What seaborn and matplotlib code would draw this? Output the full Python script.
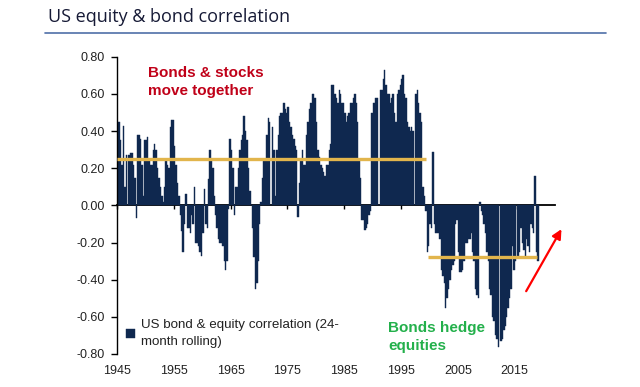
import numpy as np
import pandas as pd
import matplotlib
matplotlib.use('Agg')
import matplotlib.pyplot as plt
from matplotlib.lines import Line2D
from matplotlib.ticker import StrMethodFormatter
import seaborn as sns

# quarterly readings of the 24-month rolling correlation, one row per year (Q1..Q4)
corr_1945_1954 = [
	0.45, 0.45, 0.35, 0.22,
	0.43, 0.10, 0.27, 0.00,
	0.27, 0.28, 0.28, 0.22,
	0.15, -0.07, 0.38, 0.38,
	0.36, 0.22, 0.05, 0.35,
	0.35, 0.37, 0.25, 0.22,
	0.22, 0.30, 0.33, 0.30,
	0.20, 0.15, 0.10, 0.05,
	0.02, 0.10, 0.24, 0.22,
	0.20, 0.42, 0.46, 0.46,
]
corr_1955_1964 = [
	0.32, 0.22, 0.12, 0.05,
	-0.05, -0.14, -0.25, -0.10,
	0.06, -0.12, -0.12, -0.15,
	-0.05, -0.10, 0.10, -0.20,
	-0.20, -0.22, -0.25, -0.27,
	-0.15, 0.09, -0.10, -0.12,
	0.14, 0.30, 0.25, 0.20,
	0.05, -0.05, -0.12, -0.18,
	-0.20, -0.20, -0.22, -0.30,
	-0.35, -0.30, -0.02, 0.36,
]
corr_1965_1974 = [
	0.30, 0.20, -0.05, 0.10,
	0.10, 0.20, 0.30, 0.35,
	0.38, 0.48, 0.40, 0.35,
	0.20, 0.08, 0.00, -0.12,
	-0.28, -0.45, -0.42, -0.30,
	-0.10, 0.02, 0.15, 0.25,
	0.25, 0.38, 0.47, 0.45,
	0.00, 0.42, 0.30, 0.05,
	0.30, 0.38, 0.48, 0.50,
	0.50, 0.55, 0.52, 0.50,
]
corr_1975_1984 = [
	0.53, 0.45, 0.42, 0.38,
	0.36, 0.32, 0.30, -0.06,
	0.12, 0.24, 0.30, 0.22,
	0.22, 0.38, 0.45, 0.52,
	0.55, 0.60, 0.60, 0.58,
	0.45, 0.30, 0.26, 0.22,
	0.20, 0.18, 0.16, 0.22,
	0.22, 0.30, 0.33, 0.65,
	0.65, 0.60, 0.58, 0.55,
	0.62, 0.60, 0.55, 0.55,
]
corr_1985_1994 = [
	0.50, 0.45, 0.48, 0.50,
	0.55, 0.55, 0.58, 0.60,
	0.55, 0.45, 0.25, 0.15,
	-0.08, -0.08, -0.13, -0.12,
	-0.10, -0.05, -0.03, 0.50,
	0.55, 0.55, 0.58, 0.58,
	0.00, 0.62, 0.62, 0.68,
	0.73, 0.65, 0.60, 0.60,
	0.55, 0.58, 0.60, 0.50,
	0.45, 0.60, 0.62, 0.65,
]
corr_1995_2004 = [
	0.68, 0.70, 0.60, 0.58,
	0.45, 0.42, 0.40, 0.42,
	0.40, 0.00, 0.60, 0.62,
	0.55, 0.50, 0.45, 0.10,
	0.05, -0.03, -0.25, -0.22,
	-0.10, -0.12, 0.29, -0.10,
	-0.15, -0.15, -0.15, -0.18,
	-0.35, -0.38, -0.42, -0.55,
	-0.50, -0.45, -0.40, -0.35,
	-0.32, -0.30, -0.10, -0.08,
]
corr_2005_2019 = [
	-0.25, -0.36, -0.36, -0.35,
	-0.30, -0.20, -0.20, -0.18,
	-0.18, -0.15, -0.25, -0.30,
	-0.45, -0.48, -0.50, 0.02,
	-0.03, -0.05, -0.10, -0.15,
	-0.25, -0.30, -0.45, -0.48,
	-0.60, -0.62, -0.70, -0.72,
	-0.76, 0.00, -0.73, -0.72,
	-0.67, -0.65, -0.60, -0.55,
	-0.50, -0.45, -0.22, -0.35,
	-0.30, 0.00, -0.28, -0.25,
	-0.12, -0.20, -0.24, -0.28,
	-0.18, -0.22, -0.25, -0.10,
	-0.12, -0.15, 0.16, -0.25,
	-0.30,
]

# regime averages (gold lines)
avg_levels = [0.25, -0.28]
avg_start = [1945.0, 1999.8]
avg_end = [1999.4, 2019.0]

tick_years = [1945, 1955, 1965, 1975, 1985, 1995, 2005, 2015]
ytick_vals = [-0.8, -0.6, -0.4, -0.2, 0.0, 0.2, 0.4, 0.6, 0.8]

#------------------ build frame --------------------------------
corr = (corr_1945_1954 + corr_1955_1964 + corr_1965_1974 + corr_1975_1984
	+ corr_1985_1994 + corr_1995_2004 + corr_2005_2019)
df = pd.DataFrame({'corr': corr})
df['year'] = 1945 + (np.arange(len(df)) + 0.5) / 4

sns.set_style('white')
plt.rcParams['font.family'] = ['Liberation Sans', 'DejaVu Sans']
plt.rcParams['axes.unicode_minus'] = False

navy = '#0f284f'
fig = plt.figure(figsize=(6.4, 3.87), dpi=100)
ax = fig.add_axes([0.183, 0.0853, 0.684, 0.768])

sns.barplot(data=df, x='year', y='corr', native_scale=True, width=1, color=navy,
	saturation=1, errorbar=None, linewidth=0.3, edgecolor=navy, ax=ax,
	label='US bond & equity correlation (24-\nmonth rolling)')

ax.set_xlim(1945, 2022.1)
ax.set_ylim(-0.8, 0.8)
ax.set_xlabel('')
ax.set_ylabel('')

# axes styling
for s in ['top', 'right', 'bottom']:
	ax.spines[s].set_visible(False)
ax.spines['left'].set_color('black')
ax.spines['left'].set_linewidth(1.0)
ax.set_yticks(ytick_vals)
ax.yaxis.set_major_formatter(StrMethodFormatter('{x:.2f}'))
ax.set_xticks(tick_years)
ax.set_xticklabels([str(y) for y in tick_years])
ax.tick_params(axis='y', direction='out', length=4, width=1, color='black',
	labelsize=9, labelcolor='#222222', pad=5, left=True)
ax.tick_params(axis='x', length=0, labelsize=9, labelcolor='#222222', pad=8)

# zero line with decade ticks
zero = ax.secondary_xaxis(0, transform=ax.transData)
zero.set_xticks(tick_years)
zero.tick_params(direction='out', length=3, width=1, color='black', labelbottom=False)
zero.spines['bottom'].set_linewidth(1.3)
zero.spines['bottom'].set_color('black')

# regime averages
ax.hlines(avg_levels, avg_start, avg_end, colors='#e2b54c', linewidth=2.4, zorder=3)

# annotations
ax.text(1950.5, 0.75, 'Bonds & stocks\nmove together', color='#c00018', fontsize=11,
	fontweight='bold', va='top', ha='left', linespacing=1.35)
ax.text(1992.7, -0.62, 'Bonds hedge\nequities', color='#23b04b', fontsize=11,
	fontweight='bold', va='top', ha='left', linespacing=1.4)
ax.annotate('', xy=(2023.5, -0.115), xytext=(2016.8, -0.475),
	arrowprops=dict(arrowstyle='-|>', color='#ff0000', lw=1.6, mutation_scale=14),
	annotation_clip=False)

leg = ax.legend(loc='upper left', bbox_to_anchor=(0.02, 0.118), frameon=False,
	fontsize=9.6, handlelength=0.7, handleheight=0.7, handletextpad=0.4,
	borderpad=0, borderaxespad=0)
for t in leg.get_texts():
	t.set_color('#222222')
	t.set_linespacing(1.6)

# title and rule
fig.text(48/640, 1-17/387, 'US equity & bond correlation', fontsize=13,
	family=['Open Sans', 'DejaVu Sans'], color='#161a36', va='center', ha='left')
fig.add_artist(Line2D([45/640, 606/640], [1-33/387, 1-33/387], color='#4f6fa8', lw=1.2))

plt.savefig('out.png', dpi=100)
